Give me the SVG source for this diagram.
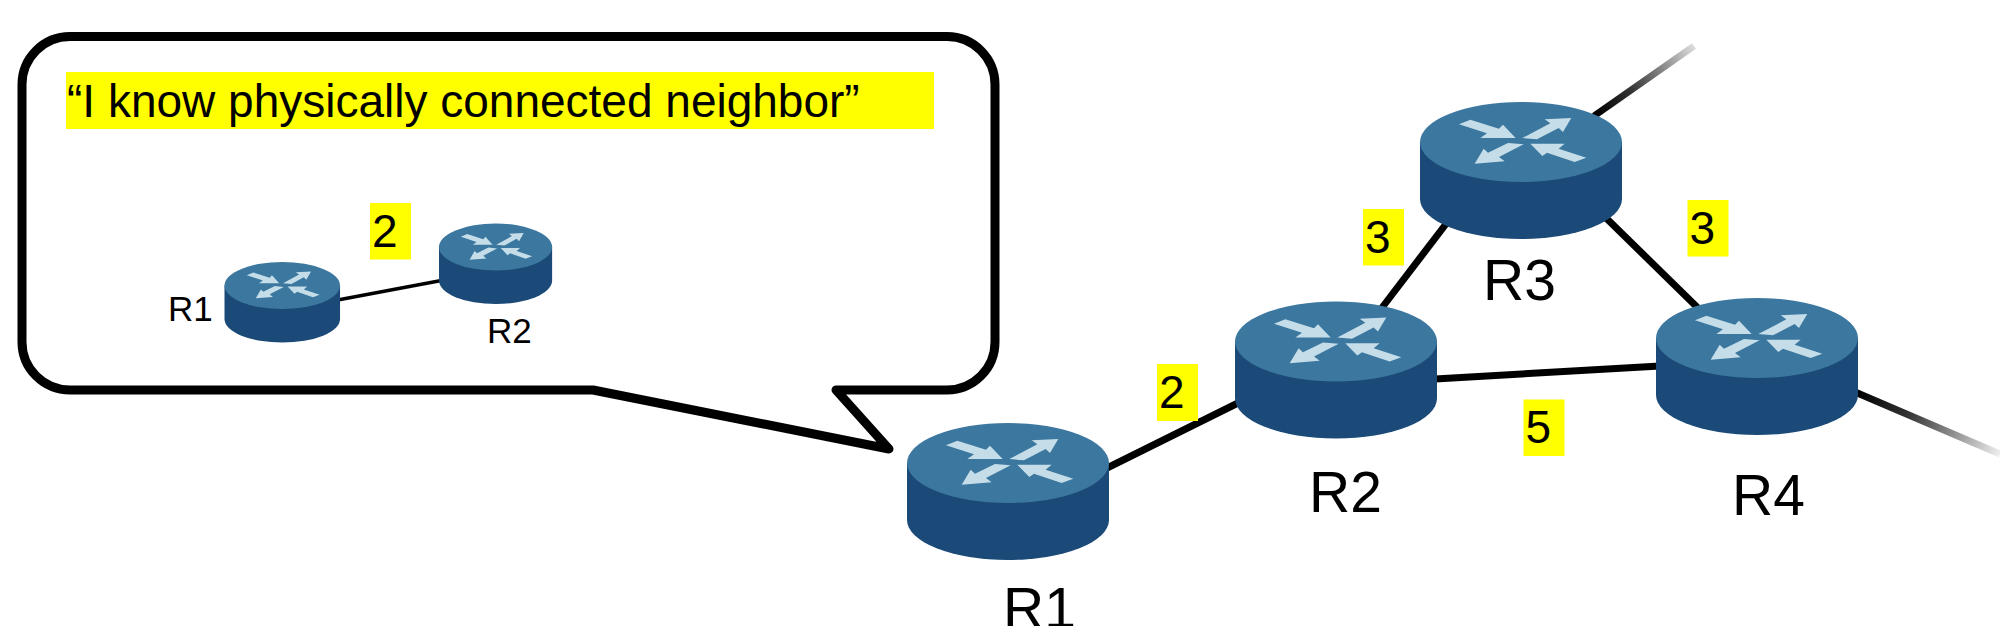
<svg xmlns="http://www.w3.org/2000/svg" xmlns:xlink="http://www.w3.org/1999/xlink" width="2000" height="626" viewBox="0 0 2000 626">
<style>
text{font-family:"Liberation Sans",Arial,sans-serif;fill:#000}
.big{font-size:57px}
.small{font-size:35px}
.num{font-size:46px}
.hl{fill:#ffff00}
.link{stroke:#000;stroke-width:7;fill:none;stroke-linecap:butt}
.top{fill:#3b779f}
.side{fill:#1b4a78}
.arr{fill:#c4dde8}
</style>
<defs>
<linearGradient id="fadeA" gradientUnits="userSpaceOnUse" x1="1596" y1="114" x2="1694" y2="46"><stop offset="0" stop-color="#000"/><stop offset="0.35" stop-color="#333"/><stop offset="1" stop-color="#ddd"/></linearGradient>
<linearGradient id="fadeB" gradientUnits="userSpaceOnUse" x1="1858" y1="393" x2="2000" y2="453"><stop offset="0" stop-color="#000"/><stop offset="0.35" stop-color="#333"/><stop offset="1" stop-color="#eee"/></linearGradient>
<g id="router">
<path class="side" d="M0,40V97A101,40 0 0 0 202,97V40Z"/>
<ellipse class="top" cx="101" cy="40" rx="101" ry="40"/>
<g transform="translate(-27,-23.3) scale(.3333)">
<polygon class="arr" points="198,137 232,123 318,150 330,138 368,178 262,178 282,164"/>
<polygon class="arr" points="388,178 432,182 497,148 510,160 535,118 455,122 472,134"/>
<polygon class="arr" points="392,197 345,193 285,222 272,210 245,255 335,248 318,235"/>
<polygon class="arr" points="580,237 545,250 462,222 448,232 412,195 515,195 497,210"/>
</g>
</g>
</defs>

<g id="connectors">
<line class="link" x1="1105" y1="469" x2="1240" y2="402"/>
<line class="link" x1="1435" y1="379" x2="1660" y2="366"/>
<line class="link" x1="1381" y1="309" x2="1449" y2="220"/>
<line class="link" x1="1602" y1="214" x2="1700" y2="310"/>
<line x1="1594" y1="116" x2="1694" y2="46" stroke="url(#fadeA)" stroke-width="7"/>
<line x1="1855" y1="392" x2="2000" y2="454" stroke="url(#fadeB)" stroke-width="7"/>
<line x1="335" y1="300.5" x2="444" y2="280" stroke="#000" stroke-width="3.5"/>
</g>

<g id="callout">
<path d="M70,36.5H947A48,48 0 0 1 995,84.5V342A48,48 0 0 1 947,390H836L889,449L593,390H70A48,48 0 0 1 22,342V84.5A48,48 0 0 1 70,36.5Z" fill="none" stroke="#000" stroke-width="9" stroke-linejoin="round"/>
<rect class="hl" x="66" y="72" width="868" height="57"/>
<text class="num" x="67" y="116.5">“I know physically connected neighbor”</text>
</g>

<g id="mini-r1">
<use xlink:href="#router" href="#router" transform="translate(224.5,262) scale(.572,.588)"/>
<text class="small" x="168" y="321">R1</text>
</g>
<g id="mini-r2">
<use xlink:href="#router" href="#router" transform="translate(439,223.5) scale(.56,.588)"/>
<text class="small" x="487" y="342.5">R2</text>
</g>
<g id="mini-cost">
<rect class="hl" x="370" y="203" width="41" height="56.5"/>
<text class="num" x="372" y="246.7">2</text>
</g>

<g id="r1">
<use xlink:href="#router" href="#router" transform="translate(907,423)"/>
<text class="big" x="1003" y="628">R1</text>
</g>
<g id="r2">
<use xlink:href="#router" href="#router" transform="translate(1235,301.5)"/>
<text class="big" x="1309" y="512">R2</text>
</g>
<g id="r3">
<use xlink:href="#router" href="#router" transform="translate(1420,102)"/>
<text class="big" x="1483" y="300">R3</text>
</g>
<g id="r4">
<use xlink:href="#router" href="#router" transform="translate(1656,298)"/>
<text class="big" x="1732" y="515">R4</text>
</g>

<g id="cost-r1-r2">
<rect class="hl" x="1157" y="364" width="41" height="57"/>
<text class="num" x="1159" y="407.7">2</text>
</g>
<g id="cost-r2-r3">
<rect class="hl" x="1363" y="209" width="41" height="56.5"/>
<text class="num" x="1365" y="252.7">3</text>
</g>
<g id="cost-r3-r4">
<rect class="hl" x="1687.5" y="200" width="41" height="56.5"/>
<text class="num" x="1689.5" y="243.7">3</text>
</g>
<g id="cost-r2-r4">
<rect class="hl" x="1523.5" y="399.5" width="41" height="56.5"/>
<text class="num" x="1525.5" y="443.2">5</text>
</g>
</svg>
